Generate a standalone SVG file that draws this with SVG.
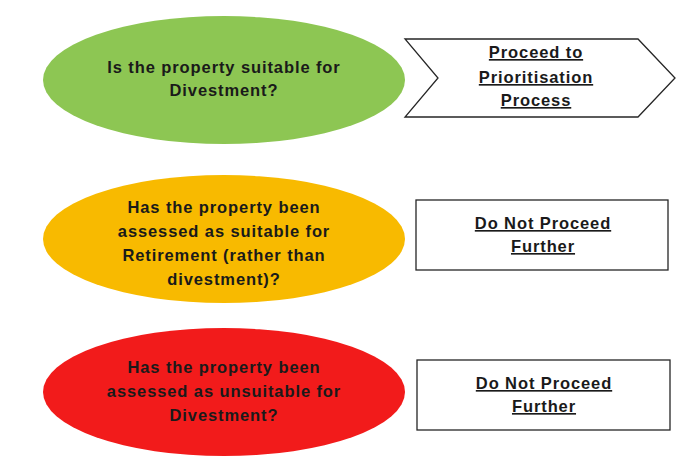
<svg xmlns="http://www.w3.org/2000/svg" width="676" height="467" viewBox="0 0 676 467">
<style>
.q{font-family:"Liberation Sans",Arial,sans-serif;font-weight:bold;font-size:16.5px;letter-spacing:0.9px;fill:#1a1a1a;text-anchor:middle}
.a{font-family:"Liberation Sans",Arial,sans-serif;font-weight:bold;font-size:16.5px;letter-spacing:0.9px;fill:#1a1a1a;text-anchor:middle;text-decoration:underline}
.box{fill:#fff;stroke:#262626;stroke-width:1.3}
</style>
<rect width="676" height="467" fill="#fff"/>
<g id="q1">
<ellipse cx="224" cy="80" rx="181" ry="64" fill="#8DC653"/>
<text class="q" x="224" y="73">Is the property suitable for</text>
<text class="q" x="224" y="96">Divestment?</text>
</g>
<g id="a1">
<polygon class="box" points="405,39 638,39 675,78 638,117 405,117 438,78"/>
<text class="a" x="536" y="58">Proceed to</text>
<text class="a" x="536" y="83">Prioritisation</text>
<text class="a" x="536" y="106">Process</text>
</g>
<g id="q2">
<ellipse cx="224" cy="239" rx="181" ry="64" fill="#F8BA00"/>
<text class="q" x="224" y="213">Has the property been</text>
<text class="q" x="224" y="237">assessed as suitable for</text>
<text class="q" x="224" y="261">Retirement (rather than</text>
<text class="q" x="224" y="285">divestment)?</text>
</g>
<g id="a2">
<rect class="box" x="416" y="200" width="252" height="70"/>
<text class="a" x="543" y="229">Do Not Proceed</text>
<text class="a" x="543" y="252">Further</text>
</g>
<g id="q3">
<ellipse cx="224" cy="392" rx="181" ry="64" fill="#F21B1B"/>
<text class="q" x="224" y="373">Has the property been</text>
<text class="q" x="224" y="397">assessed as unsuitable for</text>
<text class="q" x="224" y="421">Divestment?</text>
</g>
<g id="a3">
<rect class="box" x="417" y="360" width="253" height="70"/>
<text class="a" x="544" y="389">Do Not Proceed</text>
<text class="a" x="544" y="412">Further</text>
</g>
<g id="connectors"/>
</svg>
